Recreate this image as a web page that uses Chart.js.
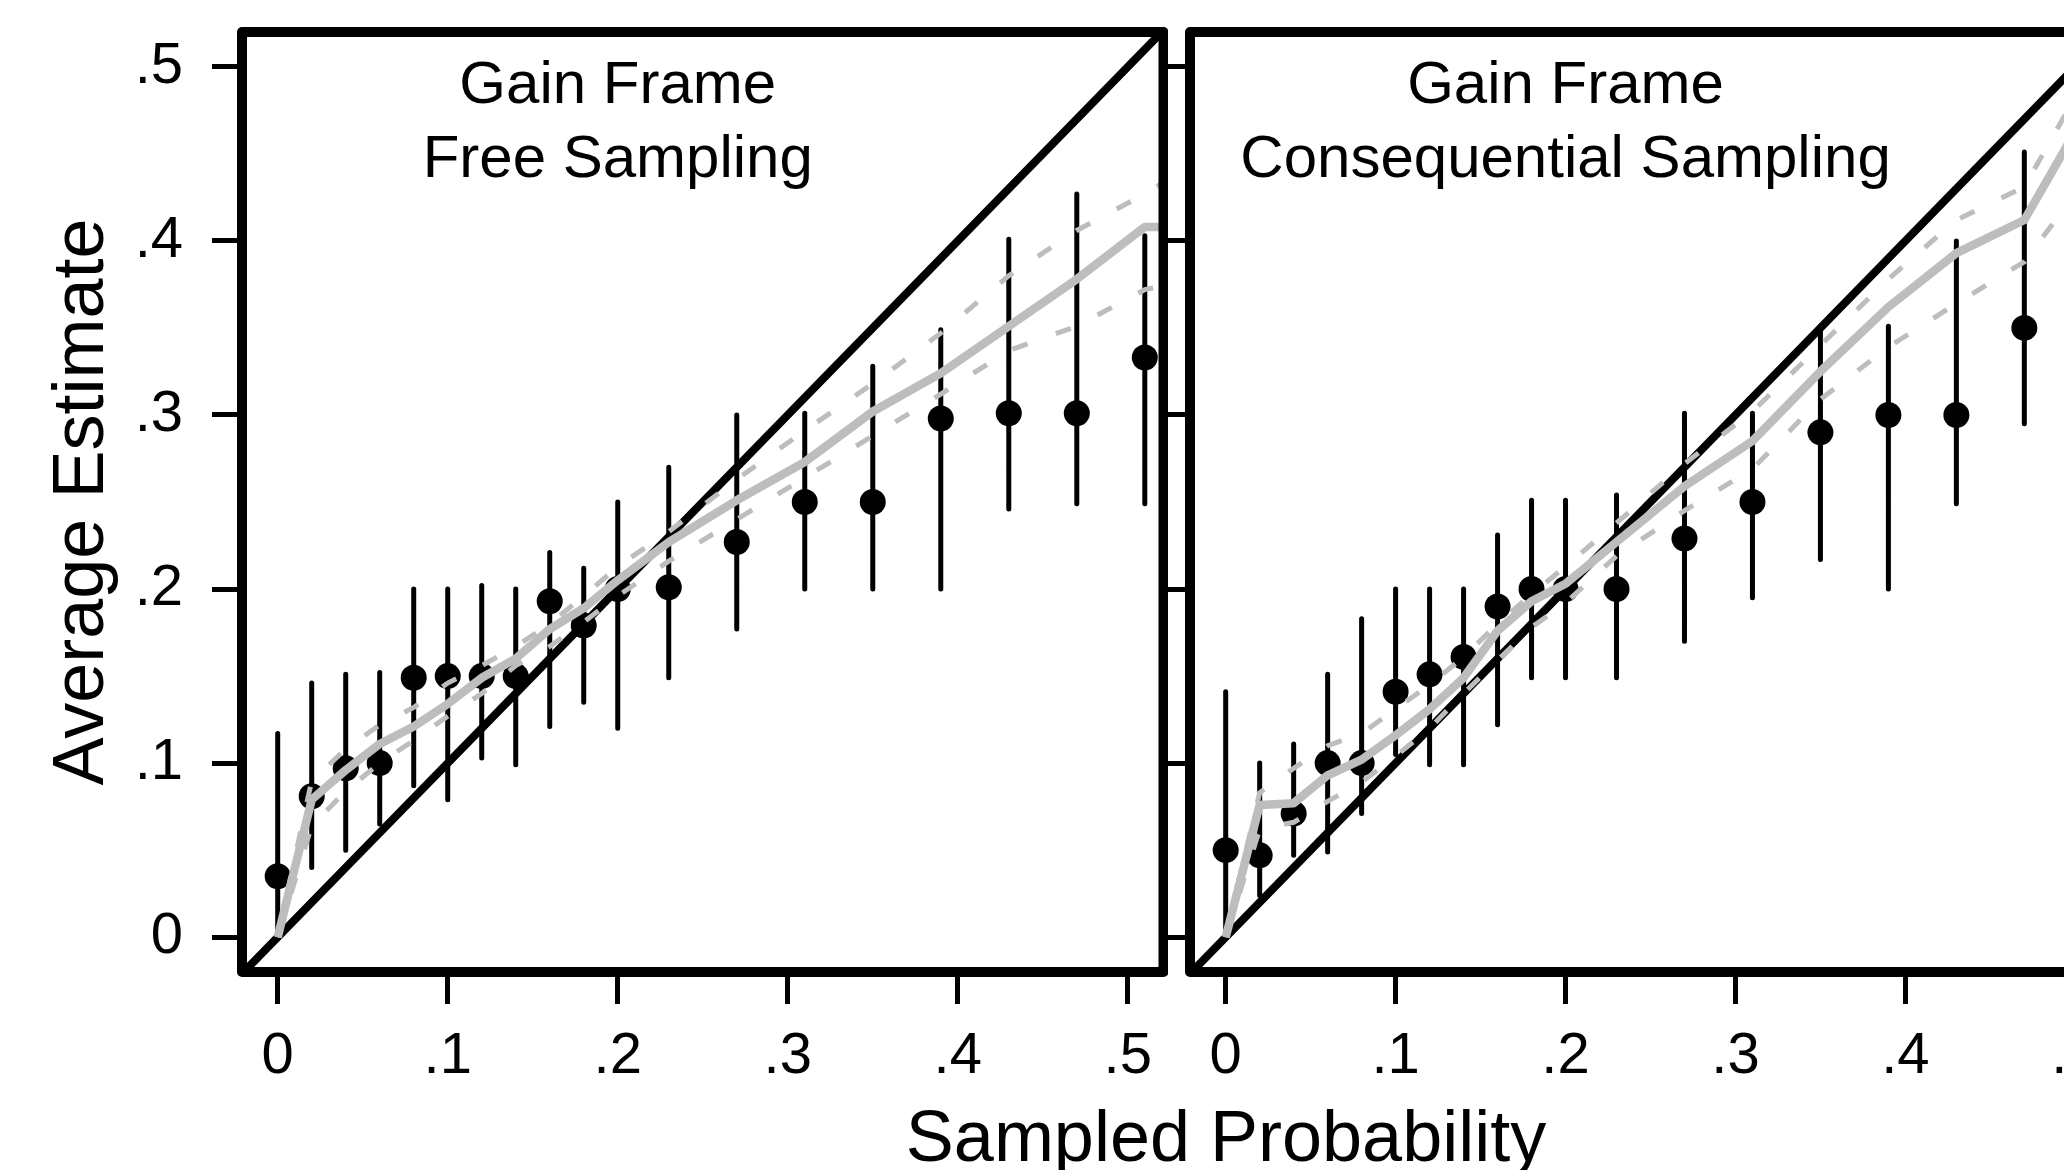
<!DOCTYPE html>
<html>
<head>
<meta charset="utf-8">
<script src="https://cdn.jsdelivr.net/npm/chart.js@4.4.1/dist/chart.umd.min.js"></script>
<style>
  html, body { margin: 0; padding: 0; background: #fff; overflow: hidden; }
  body { width: 2064px; height: 1170px; position: relative; }
  canvas { position: absolute; top: 0; }
  #freeChart { left: 0; }
  #conseqChart { left: 1168px; }
  #xTitle {
    position: absolute; left: 1226px; top: 1100px; transform: translateX(-50%);
    font: 72px/72px "Liberation Sans", Arial, sans-serif; color: #000; white-space: nowrap;
  }
</style>
</head>
<body>
<canvas id="freeChart" width="1168" height="1170"></canvas>
<canvas id="conseqChart" width="960" height="1170"></canvas>
<div id="xTitle">Sampled Probability</div>
<script>
// sampled probability bins (x positions of the estimates)
const sampledProb = [0, .02, .04, .06, .08, .10, .12, .14, .16, .18, .20, .23, .27, .31, .35, .39, .43, .47, .51];
const tickValues = [0, .1, .2, .3, .4, .5];
const tickLabels = ['0', '.1', '.2', '.3', '.4', '.5'];
const axisMin = -0.021;
const axisMax = 0.521;
const yMin = -0.02;
const yMax = 0.52;

// Gain frame, free sampling
const freeMean = [.035, .081, .097, .100, .149, .150, .150, .150, .193, .179, .200, .201, .227, .250, .250, .298, .301, .301, .333];
const freeLow  = [0, .040, .050, .065, .087, .079, .103, .099, .121, .135, .120, .149, .177, .200, .200, .200, .246, .249, .249];
const freeHigh = [.117, .146, .151, .152, .200, .200, .202, .200, .221, .212, .250, .270, .300, .301, .328, .349, .401, .427, .403];
const freeFitX = [0, .02, .04, .06, .08, .10, .12, .14, .16, .18, .20, .23, .27, .31, .35, .39, .43, .47, .51, .52];
const freeFit   = [0, .079, .096, .111, .121, .134, .149, .160, .177, .189, .205, .227, .251, .273, .302, .324, .351, .378, .408, .408];
const freeFitHi = [0, .090, .108, .122, .132, .146, .156, .167, .180, .196, .213, .233, .263, .291, .318, .347, .380, .406, .427, .433];
const freeFitLo = [0, .064, .084, .100, .113, .127, .140, .156, .167, .181, .196, .216, .240, .264, .288, .312, .337, .351, .372, .374];

// Gain frame, consequential sampling
const conseqMean = [.050, .047, .071, .100, .100, .141, .151, .161, .190, .200, .200, .200, .229, .250, .290, .300, .300, .350];
const conseqLow  = [0, .024, .047, .049, .071, .105, .099, .099, .122, .149, .149, .149, .170, .195, .217, .200, .249, .295];
const conseqHigh = [.141, .100, .111, .151, .183, .200, .200, .200, .231, .251, .251, .254, .301, .301, .349, .351, .400, .451];
const conseqFitX = sampledProb;
const conseqFit   = [0, .076, .077, .093, .102, .116, .131, .149, .176, .193, .203, .227, .259, .285, .325, .362, .393, .412, .480];
const conseqFitHi = [0, .083, .097, .110, .117, .131, .145, .161, .180, .197, .213, .238, .272, .302, .340, .378, .412, .431, .500];
const conseqFitLo = [0, .062, .066, .078, .089, .104, .120, .140, .159, .178, .192, .219, .245, .269, .309, .339, .364, .388, .440];

const fontFamily = '"Liberation Sans", Arial, sans-serif';
const gray = '#bdbdbd';

function xy(xs, ys) {
  return ys.map((y, i) => ({ x: xs[i], y }));
}

function errorBars(lows, highs) {
  const out = [];
  lows.forEach((lo, i) => {
    out.push({ x: sampledProb[i], y: lo }, { x: sampledProb[i], y: highs[i] }, { x: sampledProb[i], y: null });
  });
  return out;
}

function datasets(mean, low, high, fitX, fit, fitLo, fitHi) {
  const line = { showLine: true, pointRadius: 0, tension: 0, clip: 0 };
  // first dataset is drawn on top
  return [
    { ...line, data: xy(fitX, fit), borderColor: gray, borderWidth: 8.5, borderJoinStyle: 'round' },
    { ...line, data: xy(fitX, fitHi), borderColor: gray, borderWidth: 5, borderDash: [16, 30] },
    { ...line, data: xy(fitX, fitLo), borderColor: gray, borderWidth: 5, borderDash: [16, 30] },
    { data: xy(sampledProb, mean), pointRadius: 13, pointBackgroundColor: '#000', pointBorderWidth: 0, clip: 0 },
    { ...line, data: errorBars(low, high), borderColor: '#000', borderWidth: 5, borderCapStyle: 'round', spanGaps: false },
    { ...line, data: [{ x: axisMin, y: axisMin }, { x: axisMax, y: axisMax }], borderColor: '#000', borderWidth: 8 }
  ];
}

const frame = {
  id: 'frame',
  afterDatasetsDraw(chart) {
    const { ctx, chartArea: a } = chart;
    ctx.save();
    ctx.lineWidth = 10;
    ctx.strokeStyle = '#000';
    ctx.lineJoin = 'round';
    ctx.strokeRect(a.left, a.top, a.right - a.left, a.bottom - a.top);
    ctx.restore();
  }
};

const panelTitle = {
  id: 'panelTitle',
  afterDraw(chart, args, opts) {
    const { ctx, chartArea, scales } = chart;
    const cx = scales.x.getPixelForValue(opts.at);
    ctx.save();
    ctx.font = '60px ' + fontFamily;
    ctx.fillStyle = '#000';
    ctx.textAlign = 'center';
    ctx.textBaseline = 'alphabetic';
    opts.lines.forEach((t, i) => ctx.fillText(t, cx, chartArea.top + 71 + i * 74));
    ctx.restore();
  }
};

function makeChart(canvasId, sets, title, showY, padRight, yWidth) {
  const tickGrid = { drawOnChartArea: false, drawTicks: true, tickWidth: 5, lineWidth: 5, tickColor: '#000', color: '#000' };
  return new Chart(document.getElementById(canvasId), {
    type: 'scatter',
    data: { datasets: sets },
    plugins: [frame, panelTitle],
    options: {
      responsive: false,
      animation: false,
      layout: { autoPadding: false, padding: { top: 32, right: padRight, left: 0, bottom: 0 } },
      plugins: {
        legend: { display: false },
        tooltip: { enabled: false },
        panelTitle: { at: 0.2, lines: title }
      },
      scales: {
        x: {
          type: 'linear', min: axisMin, max: axisMax,
          afterFit: s => { s.height = 198; s.paddingLeft = 0; s.paddingRight = 0; },
          afterBuildTicks: s => { s.ticks = tickValues.map(v => ({ value: v })); },
          grid: { ...tickGrid, tickLength: 32 },
          border: { display: false },
          ticks: {
            padding: 18, color: '#000', autoSkip: false, maxRotation: 0,
            font: { size: 58, family: fontFamily },
            callback: (v, i) => tickLabels[i]
          }
        },
        y: {
          type: 'linear', min: yMin, max: yMax,
          afterFit: s => { s.width = yWidth; s.paddingTop = 0; s.paddingBottom = 0; },
          afterBuildTicks: s => { s.ticks = tickValues.map(v => ({ value: v })); },
          grid: { ...tickGrid, tickLength: showY ? 30 : 22 },
          border: { display: false },
          title: {
            display: showY, text: 'Average Estimate', color: '#000',
            font: { size: 72, family: fontFamily, lineHeight: 1.2 },
            padding: { top: 40, bottom: 0 }
          },
          ticks: {
            display: showY, padding: 29, color: '#000', autoSkip: false,
            font: { size: 58, family: fontFamily },
            callback: (v, i) => tickLabels[i]
          }
        }
      }
    }
  });
}

makeChart('freeChart',
  datasets(freeMean, freeLow, freeHigh, freeFitX, freeFit, freeFitLo, freeFitHi),
  ['Gain Frame', 'Free Sampling'], true, 4.5, 242);

makeChart('conseqChart',
  datasets(conseqMean, conseqLow, conseqHigh, conseqFitX, conseqFit, conseqFitLo, conseqFitHi),
  ['Gain Frame', 'Consequential Sampling'], false, 17, 22);
</script>
</body>
</html>
